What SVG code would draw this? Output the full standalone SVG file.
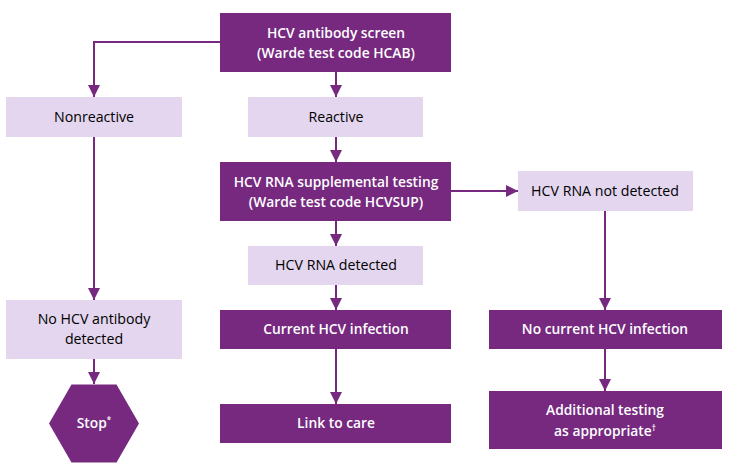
<svg xmlns="http://www.w3.org/2000/svg" width="729" height="467" viewBox="0 0 729 467">
<style>
.dark{fill:#76297F}
.light{fill:#E3D6EE}
text{font-family:"Open Sans","Noto Sans",sans-serif;font-size:13.8px;text-anchor:middle}
.dt{fill:#FFFFFF;font-weight:600}
.lt{fill:#000000;font-size:14.2px}
.c{stroke:#76297F;stroke-width:2;fill:none;marker-end:url(#ah)}
</style>
<defs>
<marker id="ah" viewBox="0 0 10 10" refX="10" refY="5" markerWidth="6" markerHeight="6" orient="auto" markerUnits="strokeWidth">
<path d="M0,0 L10,5 L0,10 Z" fill="#76297F"/>
</marker>
</defs>
<rect width="729" height="467" fill="#FFFFFF"/>
<g id="connectors">
<path class="c" d="M220,42 H94 V97"/>
<path class="c" d="M336,72 V97"/>
<path class="c" d="M336,137 V162"/>
<path class="c" d="M451,191 H518"/>
<path class="c" d="M336,221 V246"/>
<path class="c" d="M336,285 V310"/>
<path class="c" d="M336,349 V404"/>
<path class="c" d="M605,211 V310"/>
<path class="c" d="M605,349 V391"/>
<path class="c" d="M94,137 V300"/>
<path class="c" d="M94,359 V384"/>
</g>
<g id="screen">
<rect class="dark" x="220" y="13" width="231" height="59"/>
<text class="dt" x="336" y="38">HCV antibody screen</text>
<text class="dt" x="336" y="58">(Warde test code HCAB)</text>
</g>
<g id="nonreactive">
<rect class="light" x="6" y="97" width="176" height="40"/>
<text class="lt" x="94" y="122">Nonreactive</text>
</g>
<g id="reactive">
<rect class="light" x="248" y="97" width="175" height="40"/>
<text class="lt" x="336" y="122">Reactive</text>
</g>
<g id="supplemental">
<rect class="dark" x="220" y="162" width="231" height="59"/>
<text class="dt" x="336" y="187">HCV RNA supplemental testing</text>
<text class="dt" x="336" y="207">(Warde test code HCVSUP)</text>
</g>
<g id="notdetected">
<rect class="light" x="518" y="171" width="175" height="40"/>
<text class="lt" x="605" y="196">HCV RNA not detected</text>
</g>
<g id="detected">
<rect class="light" x="248" y="246" width="175" height="39"/>
<text class="lt" x="336" y="270">HCV RNA detected</text>
</g>
<g id="noantibody">
<rect class="light" x="6" y="300" width="176" height="59"/>
<text class="lt" x="94" y="324">No HCV antibody</text>
<text class="lt" x="94" y="344">detected</text>
</g>
<g id="current">
<rect class="dark" x="220" y="310" width="231" height="39"/>
<text class="dt" x="336" y="334">Current HCV infection</text>
</g>
<g id="nocurrent">
<rect class="dark" x="489" y="310" width="233" height="39"/>
<text class="dt" x="605" y="334">No current HCV infection</text>
</g>
<g id="stop">
<polygon class="dark" points="49,423.5 71.5,384.5 116.5,384.5 139,423.5 116.5,462.5 71.5,462.5"/>
<text class="dt" x="94" y="428">Stop<tspan font-size="8" dy="-5">*</tspan></text>
</g>
<g id="link">
<rect class="dark" x="220" y="404" width="231" height="39"/>
<text class="dt" x="336" y="428">Link to care</text>
</g>
<g id="additional">
<rect class="dark" x="489" y="391" width="233" height="58"/>
<text class="dt" x="605" y="415">Additional testing</text>
<text class="dt" x="605" y="436">as appropriate<tspan font-size="8" dy="-5">†</tspan></text>
</g>
</svg>
